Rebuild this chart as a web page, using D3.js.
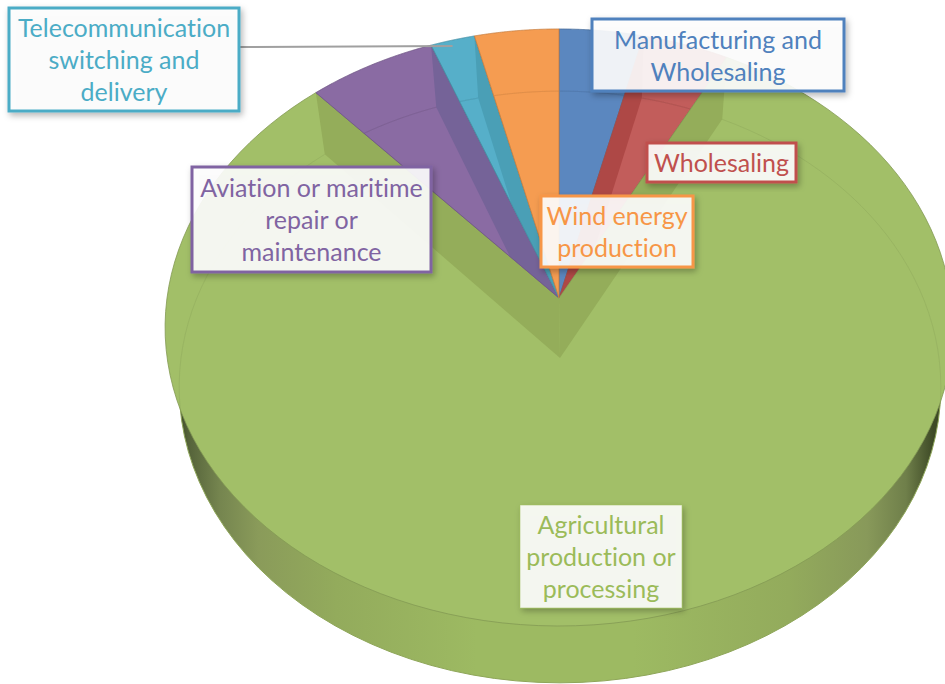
<!DOCTYPE html>
<html><head><meta charset="utf-8">
<script src="https://cdn.jsdelivr.net/npm/d3@7/dist/d3.min.js"></script>
<style>html,body{margin:0;background:#fff;overflow:hidden}svg{display:block}</style></head>
<body><svg id="c" width="945" height="684"></svg>
<script>
const categories = ["Manufacturing and Wholesaling","Wholesaling","Agricultural production or processing","Aviation or maritime repair or maintenance","Telecommunication switching and delivery","Wind energy production"];
const values = [3.8,3.9,80.7,5.8,2.0,3.8];
const labelLines = [["Manufacturing and","Wholesaling"],["Wholesaling"],["Agricultural","production or","processing"],["Aviation or maritime","repair or","maintenance"],["Telecommunication","switching and","delivery"],["Wind energy","production"]];
const faceColors = ["#5B87BF","#C25D5B","#A2BF68","#8A6BA3","#56AFC9","#F59C51"];
const wallColors = ["#5B87BF","#AE4846","#94AD5A","#756398","#4A9FB6","#F59C51"];
const labelColors = ["#4F81BD","#C0504D","#9BBB59","#8064A2","#4BACC6","#F79646"];
const labelBoxes = [[592,19,844,91],[647,143,796,182],[520,505,682,608],[192,167,431,272],[9,8,239,111],[541,196,693,267]];

const W = 945, H = 684;
const svg = d3.select("#c");
const defs = svg.append("defs");
const top3d = {cx:559, cy:298, A:392, B:295.6, k:0.0988};
const bot3d = {cx:560, cy:358, A:379, B:293, k:0.098};
const project = (g,t)=>{const u=Math.sin(t),v=Math.cos(t),w=1+g.k*v;return [g.cx+g.A*u/w, g.cy-g.B*v/w];};
const line = d3.line();
const rim = (g,a0,a1)=>d3.range(0,121).map(i=>project(g,a0+(a1-a0)*i/120));
const arcs = d3.pie().sort(null)(values);

const grad = defs.append("linearGradient").attr("id","side").attr("gradientUnits","userSpaceOnUse").attr("x1",165).attr("x2",945).attr("y1",0).attr("y2",0);
[[0.01,"#2f3a1c"],[0.03,"#55633a"],[0.07,"#75854f"],[0.12,"#8a9b5a"],[0.22,"#93ab5c"],[0.4,"#9dba62"],[0.6,"#9dba62"],[0.8,"#93ab5c"],[0.9,"#88995a"],[0.95,"#6f7f4a"],[0.985,"#3e4a26"]]
  .forEach(s=>grad.append("stop").attr("offset",s[0]).attr("stop-color",s[1]));
const f = defs.append("filter").attr("id","sh").attr("x","-15%").attr("y","-25%").attr("width","130%").attr("height","150%");
f.append("feDropShadow").attr("dx",2).attr("dy",3).attr("stdDeviation",3).attr("flood-color","#000").attr("flood-opacity",0.3);

svg.append("path").attr("d",line(rim(bot3d,0,2*Math.PI))+"Z").attr("fill","url(#side)").attr("stroke","#8ea658").attr("stroke-width",1);

arcs.forEach((a,i)=>{
  const d = line([[top3d.cx,top3d.cy],...rim(top3d,a.startAngle,a.endAngle)])+"Z";
  defs.append("clipPath").attr("id","s"+i).append("path").attr("d",d);
  svg.append("path").attr("d",d).attr("fill",faceColors[i]);
  const g = svg.append("g").attr("clip-path",`url(#s${i})`);
  [a.startAngle,a.endAngle].forEach(t=>{
    g.append("path").attr("d",line([[top3d.cx,top3d.cy],project(top3d,t),project(bot3d,t),[bot3d.cx,bot3d.cy]])+"Z").attr("fill",wallColors[i]);
  });
  g.append("path").attr("d",line(rim(bot3d,a.startAngle,a.endAngle))).attr("fill","none").attr("stroke",d3.color(faceColors[i]).darker(0.4)).attr("stroke-width",1).attr("stroke-opacity",i===2?0.4:0.7);
  svg.append("path").attr("d",d).attr("fill","none").attr("stroke",d3.color(faceColors[i]).darker(0.6)).attr("stroke-width",1).attr("stroke-opacity",0.8);
});

const tMid = (arcs[4].startAngle+arcs[4].endAngle)/2;
const tEnd = project(top3d,tMid);
svg.append("line").attr("x1",239).attr("y1",47).attr("x2",tEnd[0]).attr("y2",tEnd[1]+6).attr("stroke","#A0A0A0").attr("stroke-width",2);

labelBoxes.forEach((b,i)=>{
  const g = svg.append("g");
  g.append("rect").attr("x",b[0]).attr("y",b[1]).attr("width",b[2]-b[0]).attr("height",b[3]-b[1])
    .attr("fill","#fff").attr("fill-opacity",0.89).attr("stroke",labelColors[i]).attr("stroke-width",i===2?1:3).attr("stroke-opacity",i===2?0.5:1).attr("filter","url(#sh)");
  const n = labelLines[i].length, lh = 32, cy=(b[1]+b[3])/2+1;
  labelLines[i].forEach((t,j)=>{
    g.append("text").attr("x",(b[0]+b[2])/2).attr("y",cy+(j-(n-1)/2)*lh).attr("dy","0.34em").attr("text-anchor","middle")
      .attr("font-family","Lato, 'Open Sans', sans-serif").attr("font-size",25).style("font-variant-ligatures","none").attr("fill",labelColors[i]).text(t);
  });
});
</script></body></html>
